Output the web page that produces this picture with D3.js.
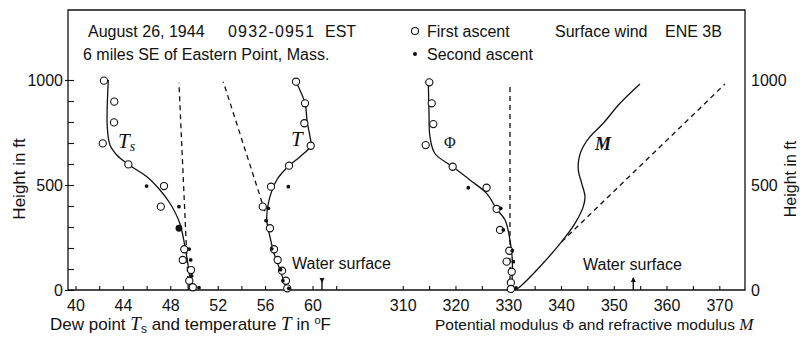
<!DOCTYPE html>
<html><head><meta charset="utf-8">
<script src="https://cdn.jsdelivr.net/npm/d3@7"></script>
<style>
html,body{margin:0;padding:0;background:#fff;}
text{font-family:"Liberation Sans",Arial,sans-serif;fill:#111;}
.it{font-family:"Liberation Serif","DejaVu Serif",serif;font-style:italic;}
</style></head>
<body><svg id="c" width="800" height="337"></svg>
<script>
// ---- data (heights in ft) ----
const tsCircleH = [997, 897, 798, 698, 598, 495, 397, 194, 143, 95, 44, 13];
const tsCircleT = [42.4, 43.27, 43.25, 42.3, 44.46, 47.47, 47.2, 49.18, 49.05, 49.75, 49.6, 49.9];
const tsDotH = [495, 397, 294, 195, 143, 67, 11];
const tsDotT = [46.0, 48.73, 48.73, 49.6, 49.72, 49.8, 50.42];
const tsCurveH = [0, 16, 111, 206, 318, 413, 476, 540, 598, 643, 690, 778, 1000];
const tsCurveT = [49.9, 49.8, 49.52, 49.24, 48.8, 47.97, 47.13, 46.0, 44.46, 43.48, 42.91, 42.68, 42.77];
const tsDashH = [0, 987];
const tsDashT = [49.52, 48.73];

const tCircleH = [992, 889, 794, 687, 592, 492, 397, 294, 194, 143, 92, 44, 8];
const tCircleT = [58.61, 59.37, 59.31, 59.85, 58.02, 56.5, 55.8, 56.41, 56.75, 57.06, 57.43, 57.76, 57.87];
const tDotH = [492, 389, 330, 196, 97, 44, 8];
const tDotT = [57.96, 56.27, 56.08, 56.56, 57.3, 57.5, 58.0];
const tCurveH = [0, 95, 175, 254, 333, 413, 524, 592, 635, 687, 730, 800, 889, 992];
const tCurveT = [57.85, 57.26, 56.75, 56.41, 56.14, 56.27, 56.98, 58.02, 58.95, 59.85, 59.79, 59.55, 59.37, 58.61];
const tDashH = [375, 992];
const tDashT = [55.98, 52.47];

const phiCircleH = [989, 889, 790, 690, 587, 487, 386, 286, 187, 135, 87, 35, 5];
const phiCircleV = [315.04, 315.5, 315.8, 314.36, 319.47, 325.9, 327.8, 328.44, 330.2, 329.7, 330.66, 330.5, 330.5];
const phiDotH = [487, 389, 286, 187, 135, 10];
const phiDotV = [322.43, 328.57, 329.06, 330.77, 330.96, 331.47];
const phiCurveH = [0, 143, 238, 333, 386, 460, 524, 587, 650, 730, 850, 1000];
const phiCurveV = [330.66, 330.77, 330.33, 329.4, 327.8, 325.9, 322.75, 319.47, 316.1, 315.17, 314.98, 314.85];
const phiDashH = [0, 985];
const phiDashV = [330.33, 330.33];

const mCurveH = [0, 16, 111, 230, 317, 397, 444, 508, 571, 635, 683, 730, 794, 889, 981];
const mCurveV = [331.28, 332.23, 336.0, 340.13, 342.65, 344.22, 344.55, 343.92, 343.28, 343.47, 344.22, 345.5, 348.0, 351.18, 354.97];
const mDashH = [230, 981];
const mDashV = [340.13, 371.08];

const tTicks = [40, 42, 44, 46, 48, 50, 52, 54, 56, 58, 60, 62];
const tLabels = [40, 44, 48, 52, 56, 60];
const mTicks = [310, 315, 320, 325, 330, 335, 340, 345, 350, 355, 360, 365, 370];
const mLabels = [310, 320, 330, 340, 350, 360, 370];
const hTicks = [0, 100, 200, 300, 400, 500, 600, 700, 800, 900, 1000];
const hLabels = [0, 500, 1000];
const waterT = 60.8, waterM = 353.7;

// ---- scales ----
const svg = d3.select("#c");
const y = d3.scaleLinear([0, 1000], [290, 80]);
const xT = d3.scaleLinear([40, 60], [75.5, 312.5]);
const xM = d3.scaleLinear([310, 370], [402.7, 719.3]);
const L = 68, R = 745, T0 = 10, B = 290;
const fmt = d3.format("d");

// frame
svg.append("path").attr("d", `M${L},${T0}H${R}V${B}H${L}Z`)
  .attr("fill", "none").attr("stroke", "#111").attr("stroke-width", 1.3);

// bottom axes
function bottomAxis(scale, ticks, labels) {
  const g = svg.append("g").attr("transform", `translate(0,${B})`)
    .call(d3.axisBottom(scale).tickValues(ticks).tickSize(-4)
      .tickFormat(d => labels.includes(d) ? fmt(d) : ""));
  g.select(".domain").remove();
  g.selectAll(".tick line").attr("stroke", "#111").attr("stroke-width", 1.1);
  g.selectAll(".tick text").attr("y", 21).attr("dy", 0)
    .style("font-size", "16px").style("font-family", "Liberation Sans, Arial, sans-serif").attr("fill", "#111");
}
bottomAxis(xT, tTicks, tLabels);
bottomAxis(xM, mTicks, mLabels);

// left axis
const ga = svg.append("g").attr("transform", `translate(${L},0)`)
  .call(d3.axisLeft(y).tickValues(hTicks).tickSize(-6).tickFormat(""));
ga.select(".domain").remove();
ga.selectAll(".tick line").attr("stroke", "#111").attr("stroke-width", 1.1);
const gl = svg.append("g").attr("transform", `translate(${L},0)`)
  .call(d3.axisLeft(y).tickValues(hLabels).tickSize(3).tickPadding(2).tickFormat(fmt));
gl.select(".domain").remove();
gl.selectAll(".tick line").attr("stroke", "#111").attr("stroke-width", 1.1);
gl.selectAll(".tick text").attr("dy", "0.36em").style("font-size", "16px")
  .style("font-family", "Liberation Sans, Arial, sans-serif").attr("fill", "#111");

// right axis labels
const gr = svg.append("g").attr("transform", `translate(${R},0)`)
  .call(d3.axisRight(y).tickValues(hLabels).tickSize(0).tickPadding(6).tickFormat(fmt));
gr.select(".domain").remove();
gr.selectAll(".tick text").attr("dy", "0.36em").style("font-size", "16px")
  .style("font-family", "Liberation Sans, Arial, sans-serif").attr("fill", "#111");

// axis titles
svg.append("text").attr("transform", "translate(25,179) rotate(-90)")
  .attr("text-anchor", "middle").style("font-size", "17px").text("Height in ft");
svg.append("text").attr("transform", "translate(796,179) rotate(-90)")
  .attr("text-anchor", "middle").style("font-size", "16px").text("Height in ft");

const tt = svg.append("text").attr("x", 50).attr("y", 330).style("font-size", "17px");
tt.append("tspan").text("Dew point ");
tt.append("tspan").attr("class", "it").style("font-size", "19px").text("T");
tt.append("tspan").attr("dy", 3).style("font-size", "12px").text("s");
tt.append("tspan").attr("dy", -3).text(" and temperature ");
tt.append("tspan").attr("class", "it").style("font-size", "19px").text("T");
tt.append("tspan").text(" in ");
tt.append("tspan").attr("dy", -6).style("font-size", "11px").text("o");
tt.append("tspan").attr("dy", 6).text("F");

const mt = svg.append("text").attr("x", 435).attr("y", 330).style("font-size", "15.5px");
mt.append("tspan").text("Potential modulus ");
mt.append("tspan").style("font-family", "Liberation Serif, serif").text("Φ");
mt.append("tspan").text(" and refractive modulus ");
mt.append("tspan").attr("class", "it").style("font-size", "17px").text("M");

// header texts
svg.append("text").attr("x", 88).attr("y", 37).style("font-size", "16px").text("August 26, 1944");
svg.append("text").attr("x", 228).attr("y", 37).style("font-size", "16px").style("letter-spacing", "1.2px").text("0932-0951");
svg.append("text").attr("x", 325).attr("y", 37).style("font-size", "16px").text("EST");
svg.append("text").attr("x", 83).attr("y", 60).style("font-size", "16px").text("6 miles SE of Eastern Point, Mass.");
svg.append("circle").attr("cx", 415).attr("cy", 31).attr("r", 3.5).attr("fill", "#fff").attr("stroke", "#111").attr("stroke-width", 1.1);
svg.append("text").attr("x", 427).attr("y", 37).style("font-size", "16px").text("First ascent");
svg.append("circle").attr("cx", 415).attr("cy", 54).attr("r", 2).attr("fill", "#111");
svg.append("text").attr("x", 427).attr("y", 60).style("font-size", "16px").text("Second ascent");
svg.append("text").attr("x", 555).attr("y", 37).style("font-size", "16px").text("Surface wind");
svg.append("text").attr("x", 665).attr("y", 37).style("font-size", "16px").text("ENE 3B");

// lines
const zip = (hs, vs) => hs.map((h, i) => [h, vs[i]]);
function drawLine(hs, vs, sx, dashed, curve) {
  const line = d3.line().x(d => sx(d[1])).y(d => y(d[0]))
    .curve(curve || d3.curveLinear);
  svg.append("path").attr("d", line(zip(hs, vs))).attr("fill", "none")
    .attr("stroke", "#111").attr("stroke-width", 1.3)
    .attr("stroke-dasharray", dashed ? "5,4" : null);
}
const smooth = d3.curveCatmullRom.alpha(0.5);
drawLine(tsDashH, tsDashT, xT, true);
drawLine(tDashH, tDashT, xT, true);
drawLine(phiDashH, phiDashV, xM, true);
drawLine(mDashH, mDashV, xM, true);
drawLine(tsCurveH, tsCurveT, xT, false, smooth);
drawLine(tCurveH, tCurveT, xT, false, smooth);
drawLine(phiCurveH, phiCurveV, xM, false, smooth);
drawLine(mCurveH, mCurveV, xM, false, smooth);

// markers
function circles(hs, vs, sx) {
  svg.append("g").selectAll("circle").data(zip(hs, vs)).join("circle")
    .attr("cx", d => sx(d[1])).attr("cy", d => y(d[0])).attr("r", 3.6)
    .attr("fill", "#fff").attr("stroke", "#111").attr("stroke-width", 1.1);
}
function dots(hs, vs, sx) {
  svg.append("g").selectAll("circle").data(zip(hs, vs)).join("circle")
    .attr("cx", d => sx(d[1])).attr("cy", d => y(d[0]))
    .attr("r", d => (sx === xT && d[0] === 294) ? 3.4 : 1.9)
    .attr("fill", "#111");
}
circles(tsCircleH, tsCircleT, xT); dots(tsDotH, tsDotT, xT);
circles(tCircleH, tCircleT, xT); dots(tDotH, tDotT, xT);
circles(phiCircleH, phiCircleV, xM); dots(phiDotH, phiDotV, xM);

// curve labels
const l1 = svg.append("text").attr("x", 118).attr("y", 148).attr("class", "it").style("font-size", "21px");
l1.append("tspan").text("T");
l1.append("tspan").attr("dy", 3).style("font-size", "14px").text("s");
svg.append("text").attr("x", 291).attr("y", 146).attr("class", "it").style("font-size", "21px").text("T");
svg.append("text").attr("x", 444).attr("y", 148).style("font-family", "Liberation Serif, serif").style("font-size", "16px").text("Φ");
svg.append("text").attr("x", 595).attr("y", 150).attr("class", "it").style("font-size", "18px").style("font-weight", "bold").text("M");

// water surface
svg.append("text").attr("x", 292).attr("y", 269).style("font-size", "16px").text("Water surface");
svg.append("text").attr("x", 583).attr("y", 270).style("font-size", "16px").text("Water surface");
[[xT(waterT), "down"], [xM(waterM), "up"]].forEach(([x, dir]) => {
  svg.append("line").attr("x1", x).attr("x2", x).attr("y1", 278).attr("y2", B)
    .attr("stroke", "#111").attr("stroke-width", 1.4);
  const p = dir === "down" ? `M${x - 2.5},278L${x + 2.5},278L${x},283Z` : `M${x - 2.5},282L${x + 2.5},282L${x},277Z`;
  svg.append("path").attr("d", p).attr("fill", "#111");
});
</script></body></html>
